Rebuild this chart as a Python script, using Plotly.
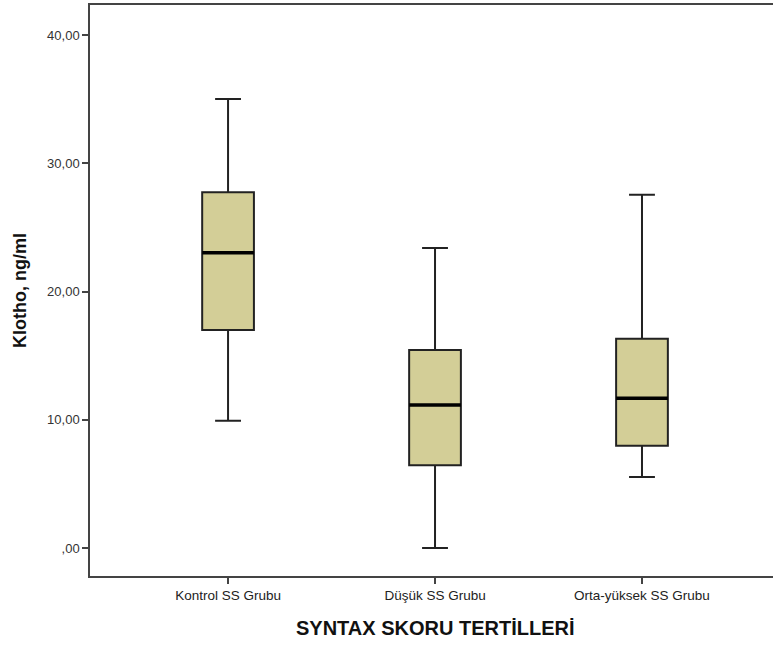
import plotly.graph_objects as go

categories = ["Kontrol SS Grubu", "Düşük SS Grubu", "Orta-yüksek SS Grubu"]
lower_whisker = [9.93, 0.0, 5.54]
q1 = [17.0, 6.45, 7.98]
median = [23.03, 11.15, 11.67]
q3 = [27.74, 15.44, 16.32]
upper_whisker = [35.01, 23.39, 27.55]
y_tickvals = [0, 10, 20, 30, 40]
y_ticktext = [",00", "10,00", "20,00", "30,00", "40,00"]

FONT = "Liberation Sans, Arial, sans-serif"
positions = list(range(len(categories)))
box_width = 0.25

fig = go.Figure()
fig.add_trace(go.Box(
    x=positions, q1=q1, median=median, q3=q3,
    lowerfence=lower_whisker, upperfence=upper_whisker,
    width=box_width, whiskerwidth=0.5,
    fillcolor="#D3CE97",
    line=dict(color="#222222", width=2),
    boxpoints=False, showlegend=False, hoverinfo="skip",
))

for p, m in zip(positions, median):
    fig.add_shape(type="line", xref="x", yref="y",
                  x0=p - box_width / 2, x1=p + box_width / 2, y0=m, y1=m,
                  line=dict(color="black", width=3.5))

fig.update_layout(
    width=773, height=646,
    margin=dict(l=90, r=0, t=5, b=70),
    plot_bgcolor="white", paper_bgcolor="white",
    font=dict(family=FONT, color="#222222"),
    xaxis=dict(
        range=[-0.667, 2.633], tickvals=positions, ticktext=categories,
        ticks="outside", ticklen=6, tickcolor="#444444", tickwidth=1.5,
        showline=True, linecolor="#444444", linewidth=1.5, mirror=True,
        showgrid=False, zeroline=False,
        tickfont=dict(size=13.5, color="#222222"),
    ),
    yaxis=dict(
        range=[-2.18, 42.34], tickvals=y_tickvals, ticktext=y_ticktext,
        ticks="outside", ticklen=6, tickcolor="#444444", tickwidth=1.5,
        showline=True, linecolor="#444444", linewidth=1.5,
        showgrid=False, zeroline=False,
        tickfont=dict(size=13, color="#333333"),
        title=dict(text="<b>Klotho, ng/ml</b>", font=dict(size=18, color="#111111"), standoff=16),
    ),
)

fig.add_annotation(
    text="<b>SYNTAX SKORU TERTİLLERİ</b>", xref="x", yref="paper",
    x=1, y=0, yshift=-52, showarrow=False, yanchor="middle",
    font=dict(size=20, color="#111111", family=FONT),
)

fig.write_html("out.html")
